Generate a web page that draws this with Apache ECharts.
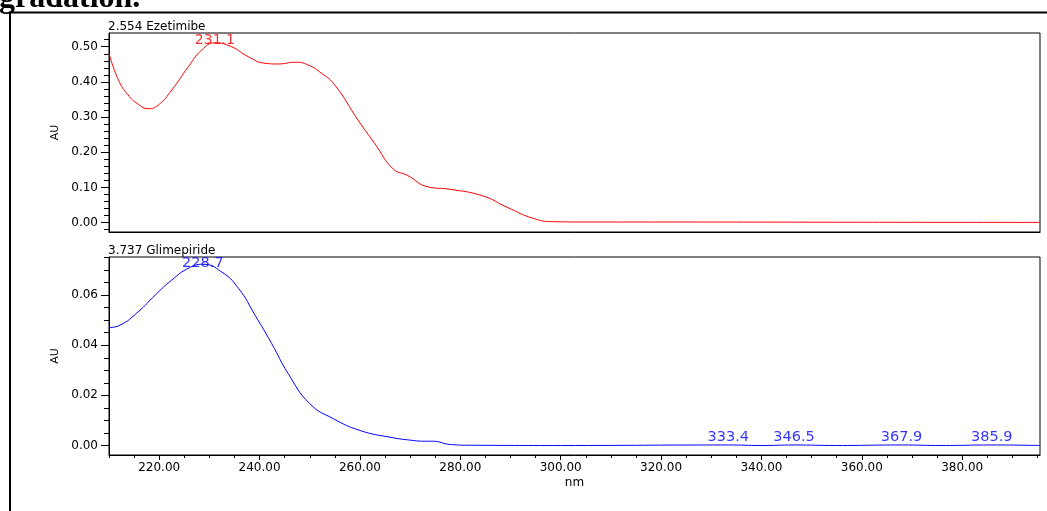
<!DOCTYPE html>
<html>
<head>
<meta charset="utf-8">
<script src="https://cdn.jsdelivr.net/npm/echarts@6/dist/echarts.min.js"></script>
<style>
html,body{margin:0;padding:0;background:#fff;}
#chart{width:1047px;height:511px;}
</style>
</head>
<body>
<div id="chart"></div>
<script>
// ---- Data ----
const topTitle = '2.554 Ezetimibe';
const bottomTitle = '3.737 Glimepiride';
const xTickLabels = [220, 240, 260, 280, 300, 320, 340, 360, 380];
const xMinorTicks = [210,215,220,225,230,235,240,245,250,255,260,265,270,275,280,285,290,295,300,305,310,315,320,325,330,335,340,345,350,355,360,365,370,375,380,385,390,395];
const topYLabels = [0.0, 0.1, 0.2, 0.3, 0.4, 0.5];
const topYMinor = [-0.02,0,0.02,0.04,0.06,0.08,0.1,0.12,0.14,0.16,0.18,0.2,0.22,0.24,0.26,0.28,0.3,0.32,0.34,0.36,0.38,0.4,0.42,0.44,0.46,0.48,0.5,0.52];
const botYLabels = [0.0, 0.02, 0.04, 0.06];
const botYMinor = [0,0.005,0.01,0.015,0.02,0.025,0.03,0.035,0.04,0.045,0.05,0.055,0.06,0.065,0.07,0.075];

const wlTop = [210, 211.9, 213.8, 215.8, 217.8, 219.8, 222.5, 225.8, 228.5, 231.1, 234.4, 237.7, 241.1, 243.7, 247.1, 249.7, 252.4, 255, 259.6, 263, 266.6, 269.4, 273.5, 277.9, 284.5, 289.3, 294.5, 298.4, 305, 320, 350, 380, 395.5];
const auTop = [0.481, 0.405, 0.363, 0.337, 0.324, 0.334, 0.377, 0.443, 0.491, 0.511, 0.500, 0.472, 0.453, 0.451, 0.456, 0.448, 0.424, 0.391, 0.292, 0.224, 0.153, 0.135, 0.102, 0.095, 0.076, 0.044, 0.0125, 0.003, 0.002, 0.002, 0.0015, 0.001, 0.0008];

const wlBot = [210, 212.2, 215.8, 219.2, 222.5, 225.8, 228.7, 232.4, 235.8, 239.1, 242.4, 245.7, 250, 254.7, 260, 266, 270.6, 273, 274.5, 278, 282, 300, 333.4, 340, 346.5, 355, 367.9, 376, 385.9, 395.5];
const auBot = [0.047, 0.048, 0.0533, 0.060, 0.066, 0.0707, 0.0723, 0.0693, 0.0627, 0.052, 0.0407, 0.0287, 0.0167, 0.0107, 0.006, 0.0033, 0.002, 0.0017, 0.0017, 0.0004, 0.0001, 0.0, 0.0002, 0.0, 0.0002, 0.0, 0.0002, 0.0, 0.0002, 0.0];

const topPeakWl = [231.1];
const topPeakAu = [0.511];
const botPeakWl = [228.7];
const botPeakAu = [0.0723];
const botMinorPeakWl = [333.4, 346.5, 367.9, 385.9];
const botMinorPeakAu = [0.0002, 0.0002, 0.0002, 0.0002];

// ---- Chart ----
const FONT = 'DejaVu Sans';
const zip = (a, b) => a.map((v, i) => [v, b[i]]);
const X_MIN = 210, X_MAX = 395.5;
const TOP_MIN = -0.0264, TOP_MAX = 0.539;
const BOT_MIN = -0.0038, BOT_MAX = 0.0752;

const chart = echarts.init(document.getElementById('chart'), null, {renderer: 'canvas'});

function yMajor(grid, min, max, labels) {
  return {
    type: 'value', gridIndex: grid, min: min, max: max, position: 'left',
    name: 'AU', nameLocation: 'middle', nameGap: 46, nameRotate: 90,
    nameTextStyle: {fontFamily: FONT, fontSize: 11, color: '#000'},
    axisLine: {show: true, onZero: false, lineStyle: {color: '#000', width: 1}},
    axisTick: {show: true, length: 8, customValues: labels, lineStyle: {color: '#000'}},
    axisLabel: {show: true, margin: 11, customValues: labels, formatter: v => v.toFixed(2),
      fontFamily: FONT, fontSize: 12, color: '#000'},
    splitLine: {show: false}
  };
}
function yMinor(grid, min, max, ticks) {
  return {
    type: 'value', gridIndex: grid, min: min, max: max, position: 'left', offset: 0,
    axisLine: {show: false, onZero: false},
    axisTick: {show: true, length: 5, customValues: ticks, lineStyle: {color: '#000'}},
    axisLabel: {show: false},
    splitLine: {show: false}
  };
}

const option = {
  backgroundColor: '#fff',
  animation: false,
  grid: [
    {left: 109, top: 33, width: 931, height: 199, show: true, borderColor: '#000', borderWidth: 1, backgroundColor: 'transparent'},
    {left: 109, top: 257, width: 931, height: 198, show: true, borderColor: '#000', borderWidth: 1, backgroundColor: 'transparent'}
  ],
  xAxis: [
    {type: 'value', gridIndex: 0, min: X_MIN, max: X_MAX, position: 'bottom',
      axisLine: {show: true, onZero: false, lineStyle: {color: '#000'}},
      axisTick: {show: false}, axisLabel: {show: false}, splitLine: {show: false}},
    {type: 'value', gridIndex: 1, min: X_MIN, max: X_MAX, position: 'bottom',
      name: 'nm', nameLocation: 'middle', nameGap: 22,
      nameTextStyle: {fontFamily: FONT, fontSize: 12, color: '#000'},
      axisLine: {show: true, onZero: false, lineStyle: {color: '#000'}},
      axisTick: {show: true, length: 5, customValues: xTickLabels, lineStyle: {color: '#000'}},
      axisLabel: {show: true, margin: 7, customValues: xTickLabels, formatter: v => v.toFixed(2),
        fontFamily: FONT, fontSize: 12, color: '#000'},
      splitLine: {show: false}},
    {type: 'value', gridIndex: 1, min: X_MIN, max: X_MAX, position: 'bottom', offset: 0,
      axisLine: {show: false, onZero: false},
      axisTick: {show: true, length: 3, customValues: xMinorTicks, lineStyle: {color: '#000'}},
      axisLabel: {show: false}, splitLine: {show: false}}
  ],
  yAxis: [
    yMajor(0, TOP_MIN, TOP_MAX, topYLabels),
    yMinor(0, TOP_MIN, TOP_MAX, topYMinor),
    yMajor(1, BOT_MIN, BOT_MAX, botYLabels),
    yMinor(1, BOT_MIN, BOT_MAX, botYMinor)
  ],
  graphic: [
    {type: 'rect', shape: {x: 10, y: 12.5, width: 1200, height: 700}, silent: true,
      style: {fill: 'none', stroke: '#000', lineWidth: 2}},
    {type: 'text', x: -1, y: 15, silent: true,
      style: {text: 'gradation.', font: 'bold 32px "Liberation Serif", "Times New Roman", serif', fill: '#000', textVerticalAlign: 'bottom'}},
    {type: 'text', x: 108, y: 27, silent: true,
      style: {text: topTitle, fontFamily: FONT, fontSize: 12, fill: '#000', textVerticalAlign: 'middle'}},
    {type: 'text', x: 108, y: 250.5, silent: true,
      style: {text: bottomTitle, fontFamily: FONT, fontSize: 12, fill: '#000', textVerticalAlign: 'middle'}}
  ],
  series: [
    {type: 'line', xAxisIndex: 0, yAxisIndex: 0, data: zip(wlTop, auTop), smooth: 0.5,
      showSymbol: false, symbol: 'none', lineStyle: {color: '#ff0000', width: 1}, silent: true},
    {type: 'scatter', xAxisIndex: 0, yAxisIndex: 0, data: zip(topPeakWl, topPeakAu), symbolSize: 0, silent: true,
      label: {show: true, position: 'top', distance: -5, formatter: p => p.value[0].toFixed(1),
        color: '#ff0000', fontFamily: FONT, fontSize: 14}},
    {type: 'line', xAxisIndex: 1, yAxisIndex: 2, data: zip(wlBot, auBot), smooth: 0.5,
      showSymbol: false, symbol: 'none', lineStyle: {color: '#0000ff', width: 1}, silent: true},
    {type: 'scatter', xAxisIndex: 1, yAxisIndex: 2, data: zip(botPeakWl, botPeakAu), symbolSize: 0, silent: true,
      label: {show: true, position: 'top', distance: -6, formatter: p => p.value[0].toFixed(1),
        color: '#0000ff', fontFamily: FONT, fontSize: 14.5}},
    {type: 'scatter', xAxisIndex: 1, yAxisIndex: 2, data: zip(botMinorPeakWl, botMinorPeakAu), symbolSize: 0, silent: true,
      label: {show: true, position: 'top', distance: 0, formatter: p => p.value[0].toFixed(1),
        color: '#0000ff', fontFamily: FONT, fontSize: 14.5}}
  ]
};
chart.setOption(option);
</script>
</body>
</html>
